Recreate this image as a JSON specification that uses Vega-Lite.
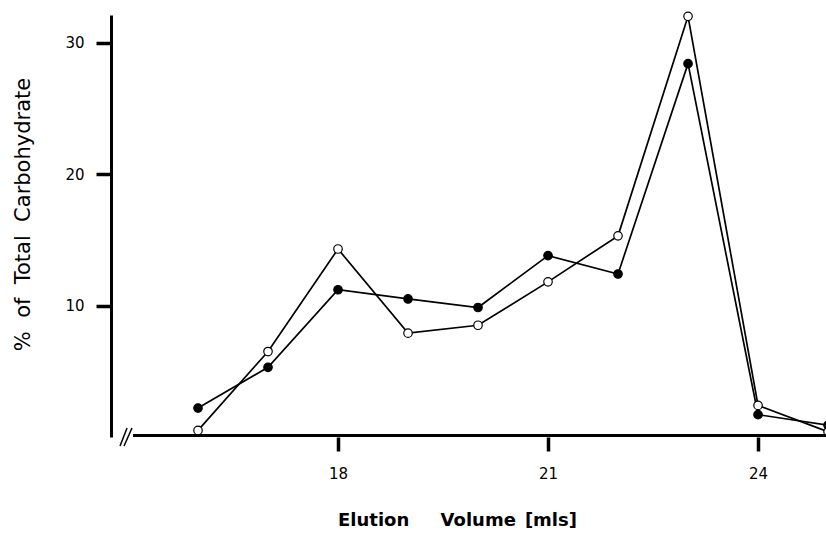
{
  "$schema": "https://vega.github.io/schema/vega-lite/v6.json",
  "width": 715,
  "height": 422,
  "autosize": {"type": "none"},
  "padding": {"left": 111, "top": 15, "right": 0, "bottom": 99},
  "background": "white",
  "config": {
    "view": {"stroke": null},
    "font": "DejaVu Sans",
    "axis": {
      "grid": false,
      "tickColor": "black",
      "tickWidth": 3.5,
      "labelColor": "black",
      "labelFont": "DejaVu Sans",
      "titleFont": "DejaVu Sans",
      "titleColor": "black",
      "labelFontSize": 15,
      "labelFontWeight": "normal"
    },
    "axisX": {
      "domain": false,
      "tickSize": 14,
      "labelPadding": 15,
      "titleFontSize": 18,
      "titleFontWeight": "bold",
      "titleX": 346,
      "titleY": 74,
      "titleBaseline": "top",
      "titleAlign": "center"
    },
    "axisY": {
      "domain": true,
      "domainWidth": 3,
      "domainColor": "black",
      "tickSize": 15,
      "labelPadding": 12,
      "titleFontSize": 21,
      "titleFontWeight": "normal",
      "titleX": -78,
      "titleY": 199,
      "titleAlign": "center",
      "titleBaseline": "bottom"
    }
  },
  "datasets": {
    "series": [
      {"vol": 16, "pct": 0.5, "sample": "open"},
      {"vol": 17, "pct": 6.5, "sample": "open"},
      {"vol": 18, "pct": 14.3, "sample": "open"},
      {"vol": 19, "pct": 7.9, "sample": "open"},
      {"vol": 20, "pct": 8.5, "sample": "open"},
      {"vol": 21, "pct": 11.8, "sample": "open"},
      {"vol": 22, "pct": 15.3, "sample": "open"},
      {"vol": 23, "pct": 32.0, "sample": "open"},
      {"vol": 24, "pct": 2.4, "sample": "open"},
      {"vol": 25, "pct": 0.4, "sample": "open"},
      {"vol": 16, "pct": 2.2, "sample": "filled"},
      {"vol": 17, "pct": 5.3, "sample": "filled"},
      {"vol": 18, "pct": 11.2, "sample": "filled"},
      {"vol": 19, "pct": 10.5, "sample": "filled"},
      {"vol": 20, "pct": 9.85, "sample": "filled"},
      {"vol": 21, "pct": 13.8, "sample": "filled"},
      {"vol": 22, "pct": 12.4, "sample": "filled"},
      {"vol": 23, "pct": 28.4, "sample": "filled"},
      {"vol": 24, "pct": 1.7, "sample": "filled"},
      {"vol": 25, "pct": 0.9, "sample": "filled"}
    ],
    "xaxis": [{"x1": 15.071, "x2": 25.5, "y": 0.12}],
    "breaks": [
      {"x1": 14.886, "x2": 14.986, "y1": -0.68, "y2": 0.68},
      {"x1": 14.943, "x2": 15.057, "y1": -0.68, "y2": 0.68}
    ]
  },
  "layer": [
    {
      "data": {"name": "series"},
      "mark": {"type": "line", "color": "black", "strokeWidth": 1.7},
      "encoding": {
        "x": {
          "field": "vol", "type": "quantitative",
          "scale": {"domain": [14.757, 24.971], "nice": false, "zero": false},
          "axis": {
            "values": [18, 21, 24],
            "format": "d",
            "title": "Elution\u00a0\u00a0\u00a0\u00a0\u00a0Volume\u2002[mls]"
          }
        },
        "y": {
          "field": "pct", "type": "quantitative",
          "scale": {"domain": [0, 32.1], "nice": false},
          "axis": {
            "values": [10, 20, 30],
            "format": "d",
            "title": "%\u00a0\u00a0of\u00a0\u00a0Total\u00a0\u00a0Carbohydrate"
          }
        },
        "detail": {"field": "sample"}
      }
    },
    {
      "data": {"name": "series"},
      "mark": {"type": "point", "shape": "circle", "stroke": "black", "strokeWidth": 1.2, "opacity": 1, "filled": true},
      "encoding": {
        "x": {"field": "vol", "type": "quantitative"},
        "y": {"field": "pct", "type": "quantitative"},
        "fill": {
          "field": "sample", "type": "nominal",
          "scale": {"domain": ["open", "filled"], "range": ["white", "black"]},
          "legend": null
        },
        "size": {"value": 72}
      }
    },
    {
      "data": {"name": "xaxis"},
      "mark": {"type": "rule", "color": "black", "strokeWidth": 3},
      "encoding": {
        "x": {"field": "x1", "type": "quantitative"},
        "x2": {"field": "x2"},
        "y": {"field": "y", "type": "quantitative"}
      }
    },
    {
      "data": {"name": "breaks"},
      "mark": {"type": "rule", "color": "black", "strokeWidth": 1.5},
      "encoding": {
        "x": {"field": "x1", "type": "quantitative"},
        "x2": {"field": "x2"},
        "y": {"field": "y1", "type": "quantitative"},
        "y2": {"field": "y2"}
      }
    }
  ]
}
